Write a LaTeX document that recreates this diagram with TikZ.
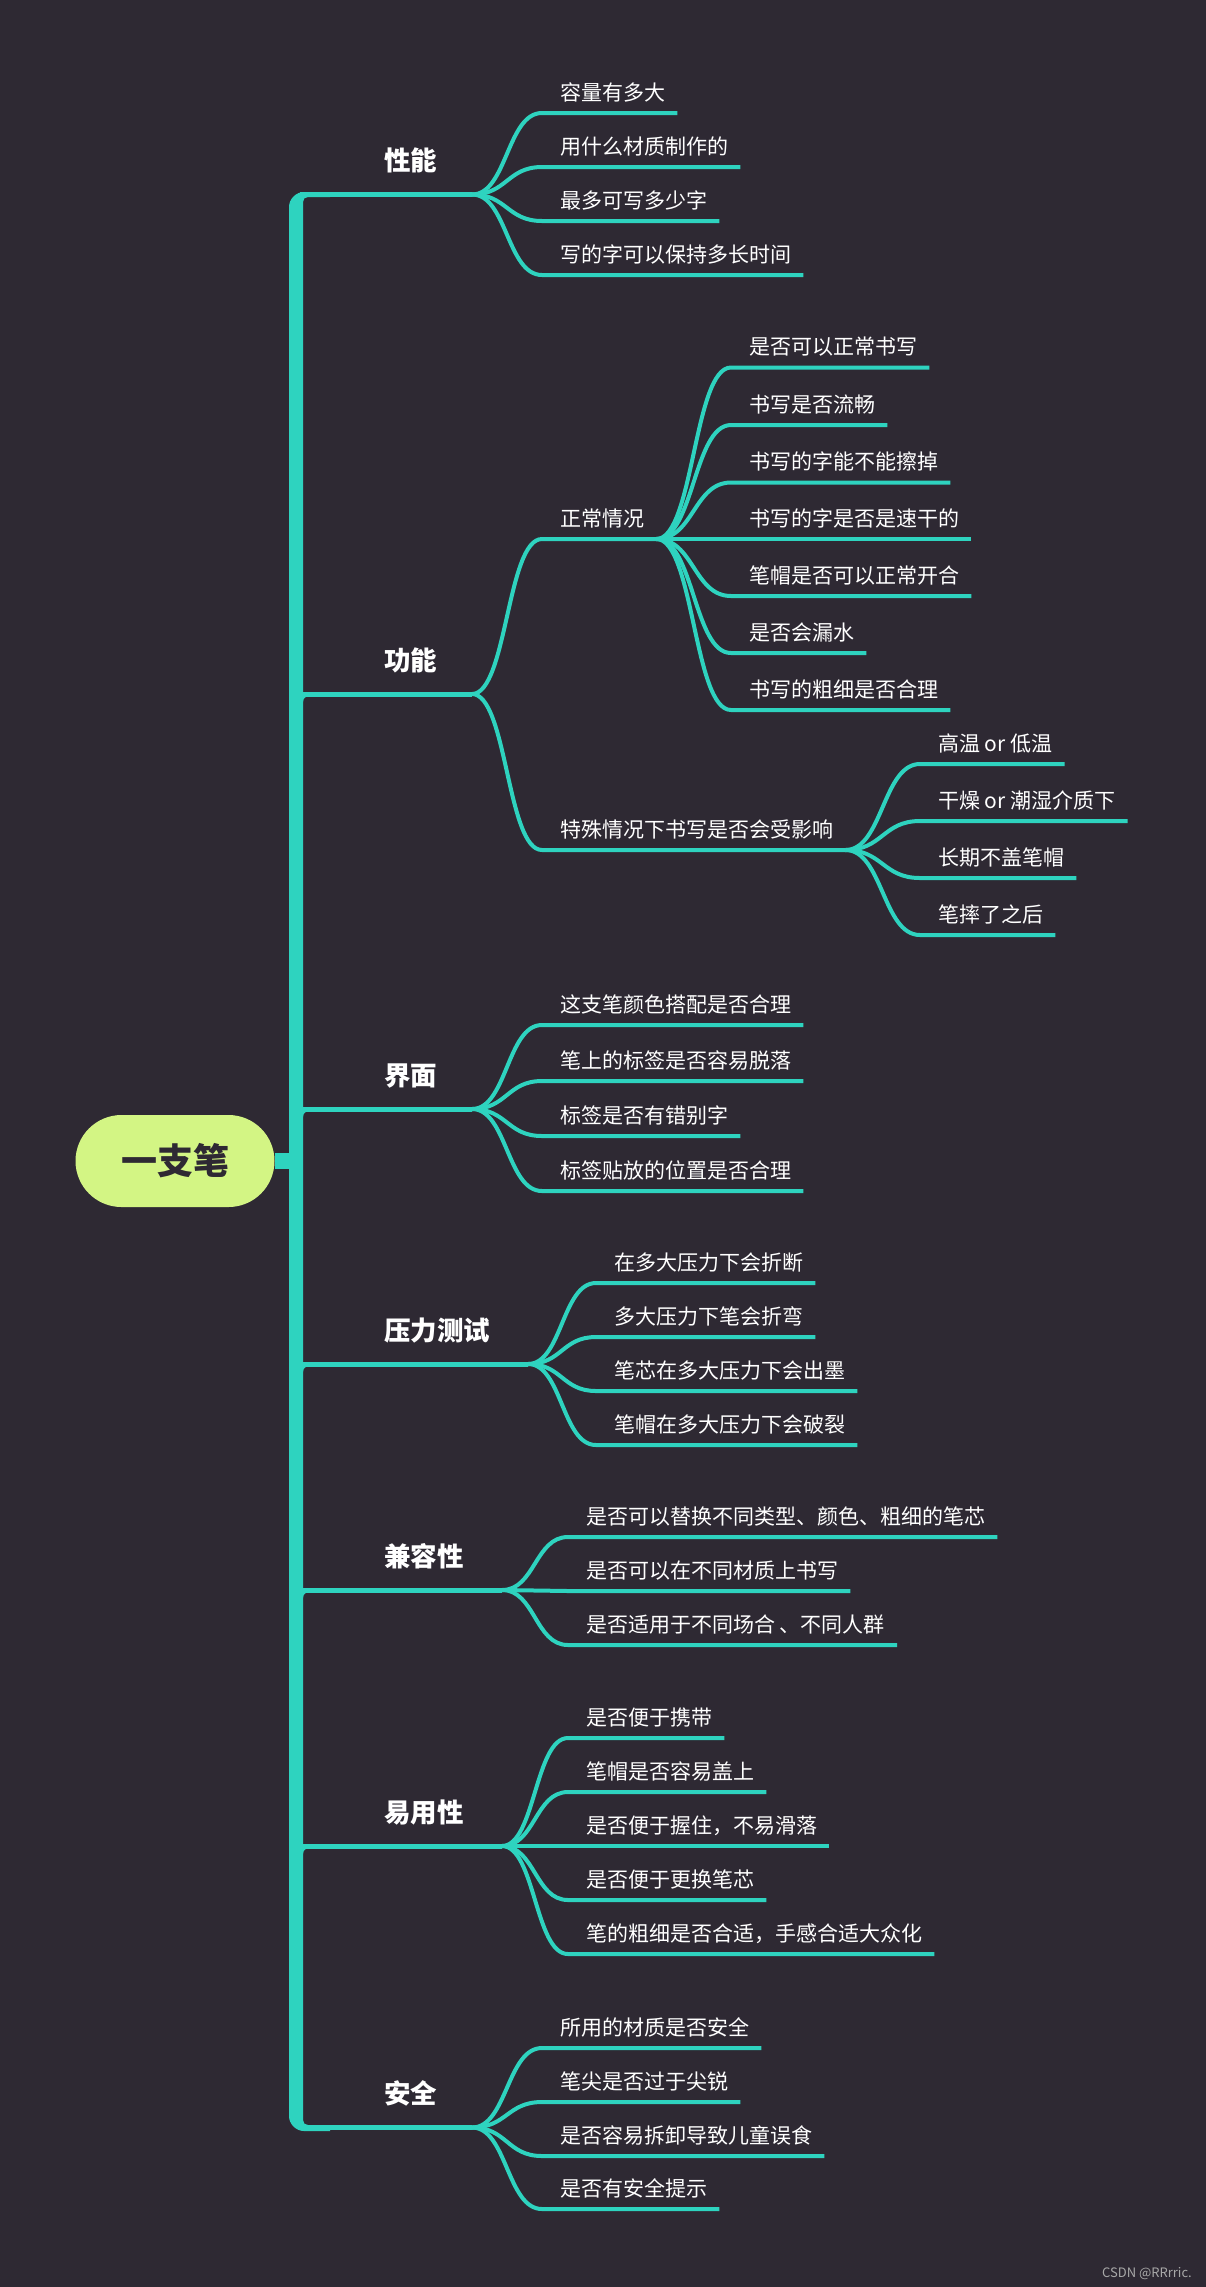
\documentclass[tikz,border=0pt]{standalone}
\usepackage{fontspec}
\newfontfamily\cjk{Noto Sans CJK SC}
\usetikzlibrary{calc}
\definecolor{bgc}{HTML}{2E2933}
\definecolor{tealc}{HTML}{2ED3BF}
\definecolor{limec}{HTML}{D3F584}
\definecolor{markc}{HTML}{A8A8A8}
\tikzset{
  branchline/.style={draw=tealc,line width=5pt},
  twig/.style={draw=tealc,line width=4pt},
  leaf/.style={anchor=base west,inner sep=0pt,text=white,font=\cjk\fontsize{21}{24}\selectfont},
  mainlabel/.style={anchor=base west,inner sep=0pt,text=white,font=\cjk\bfseries\fontsize{26.5}{30}\selectfont},
  rootbox/.style={fill=limec,rounded corners=46pt,minimum width=199pt,minimum height=92pt,inner sep=0pt,text=bgc,font=\cjk\bfseries\fontsize{36}{40}\selectfont},
}
% #1 name, #2 fan coordinate, #3 text left x, #4 line y, #5 text
\newcommand\mmleaf[5]{%
  \node[leaf] (#1) at (#3,#4-13) {#5};
  \coordinate (#1s) at (#3-18,#4);
  \coordinate (#1m) at ($(#2)!0.5!(#1s)$);
  \draw[twig] (#2) .. controls (#1m |- #2) and (#1m |- #1s) .. (#1s) -- ($(#1s -| #1.east)+(12,0)$);
}
% #1 name, #2 line y, #3 fan x, #4 text
\newcommand\mmmain[4]{%
  \node[mainlabel] (#1) at (384,#2-24) {#4};
  \coordinate (#1f) at (#3,#2);
  \draw[branchline] (300,#2) -- (#1f);
}
% small fillet under a middle branch where it meets the trunk
\newcommand\mmfillet[1]{%
  \fill[tealc] (303,#1+2) -- (310,#1+2) .. controls (306,#1+2) and (303,#1+4) .. (303,#1+8) -- cycle;
}
\begin{document}
\begin{tikzpicture}[x=1pt,y=-1pt]
\fill[bgc] (0,0) rectangle (1206,2287);
\useasboundingbox (0,0) rectangle (1206,2287);
% trunk
\fill[tealc] (330,192) -- (304,192) .. controls (296,192) and (289,199) .. (289,207)
  -- (289,2116) .. controls (289,2124) and (296,2131) .. (304,2131) -- (330,2131)
  -- (330,2125) -- (308,2125) .. controls (305,2125) and (303,2123) .. (303,2120)
  -- (303,202) .. controls (303,199) and (305,197) .. (308,197) -- (330,197) -- cycle;
\coordinate (trunkmid) at (296,1161);
% root
\node[rootbox] (root) at (175,1161) {一支笔};
\draw[tealc,line width=16pt] (root.east) -- (trunkmid);
% main branches
\mmmain{xn}{194.5}{472}{性能}
\mmmain{gn}{694}{472}{功能}
\mmmain{jm}{1109}{472}{界面}
\mmmain{yl}{1364}{528}{压力测试}
\mmmain{jr}{1590}{502}{兼容性}
\mmmain{yy}{1846}{502}{易用性}
\mmmain{aq}{2127.5}{472}{安全}
\mmfillet{694}
\mmfillet{1109}
\mmfillet{1364}
\mmfillet{1590}
\mmfillet{1846}
% 性能
\mmleaf{xa}{xnf}{560}{113}{容量有多大}
\mmleaf{xb}{xnf}{560}{167}{用什么材质制作的}
\mmleaf{xc}{xnf}{560}{221}{最多可写多少字}
\mmleaf{xd}{xnf}{560}{275}{写的字可以保持多长时间}
% 功能
\mmleaf{ga}{gnf}{560}{539}{正常情况}
\mmleaf{gb}{gnf}{560}{850}{特殊情况下书写是否会受影响}
\coordinate (gaf) at ($(gas -| ga.east)+(12,0)$);
\coordinate (gbf) at ($(gbs -| gb.east)+(12,0)$);
\mmleaf{gaa}{gaf}{749}{367.5}{是否可以正常书写}
\mmleaf{gab}{gaf}{749}{425}{书写是否流畅}
\mmleaf{gac}{gaf}{749}{482.5}{书写的字能不能擦掉}
\mmleaf{gad}{gaf}{749}{539}{书写的字是否是速干的}
\mmleaf{gae}{gaf}{749}{596}{笔帽是否可以正常开合}
\mmleaf{gag}{gaf}{749}{653}{是否会漏水}
\mmleaf{gah}{gaf}{749}{710}{书写的粗细是否合理}
\mmleaf{gba}{gbf}{938}{764}{高温 or 低温}
\mmleaf{gbb}{gbf}{938}{821}{干燥 or 潮湿介质下}
\mmleaf{gbc}{gbf}{938}{878}{长期不盖笔帽}
\mmleaf{gbd}{gbf}{938}{935}{笔摔了之后}
% 界面
\mmleaf{ja}{jmf}{560}{1025}{这支笔颜色搭配是否合理}
\mmleaf{jb}{jmf}{560}{1081}{笔上的标签是否容易脱落}
\mmleaf{jc}{jmf}{560}{1136}{标签是否有错别字}
\mmleaf{jd}{jmf}{560}{1191}{标签贴放的位置是否合理}
% 压力测试
\mmleaf{ya}{ylf}{614}{1283}{在多大压力下会折断}
\mmleaf{yb}{ylf}{614}{1337}{多大压力下笔会折弯}
\mmleaf{yc}{ylf}{614}{1391}{笔芯在多大压力下会出墨}
\mmleaf{yd}{ylf}{614}{1445}{笔帽在多大压力下会破裂}
% 兼容性
\mmleaf{ra}{jrf}{586}{1537}{是否可以替换不同类型、颜色、粗细的笔芯}
\mmleaf{rb}{jrf}{586}{1591}{是否可以在不同材质上书写}
\mmleaf{rc}{jrf}{586}{1645}{是否适用于不同场合 、不同人群}
% 易用性
\mmleaf{ua}{yyf}{586}{1738}{是否便于携带}
\mmleaf{ub}{yyf}{586}{1792}{笔帽是否容易盖上}
\mmleaf{uc}{yyf}{586}{1846}{是否便于握住，不易滑落}
\mmleaf{ud}{yyf}{586}{1900}{是否便于更换笔芯}
\mmleaf{ue}{yyf}{586}{1954}{笔的粗细是否合适，手感合适大众化}
% 安全
\mmleaf{aa}{aqf}{560}{2048}{所用的材质是否安全}
\mmleaf{ab}{aqf}{560}{2102}{笔尖是否过于尖锐}
\mmleaf{ac}{aqf}{560}{2156}{是否容易拆卸导致儿童误食}
\mmleaf{ad}{aqf}{560}{2209}{是否有安全提示}
% watermark
\node[anchor=base east,inner sep=0pt,text=markc,font=\cjk\fontsize{13}{15}\selectfont] (wm) at (1192,2277) {CSDN @RRrric.};
\end{tikzpicture}
\end{document}
